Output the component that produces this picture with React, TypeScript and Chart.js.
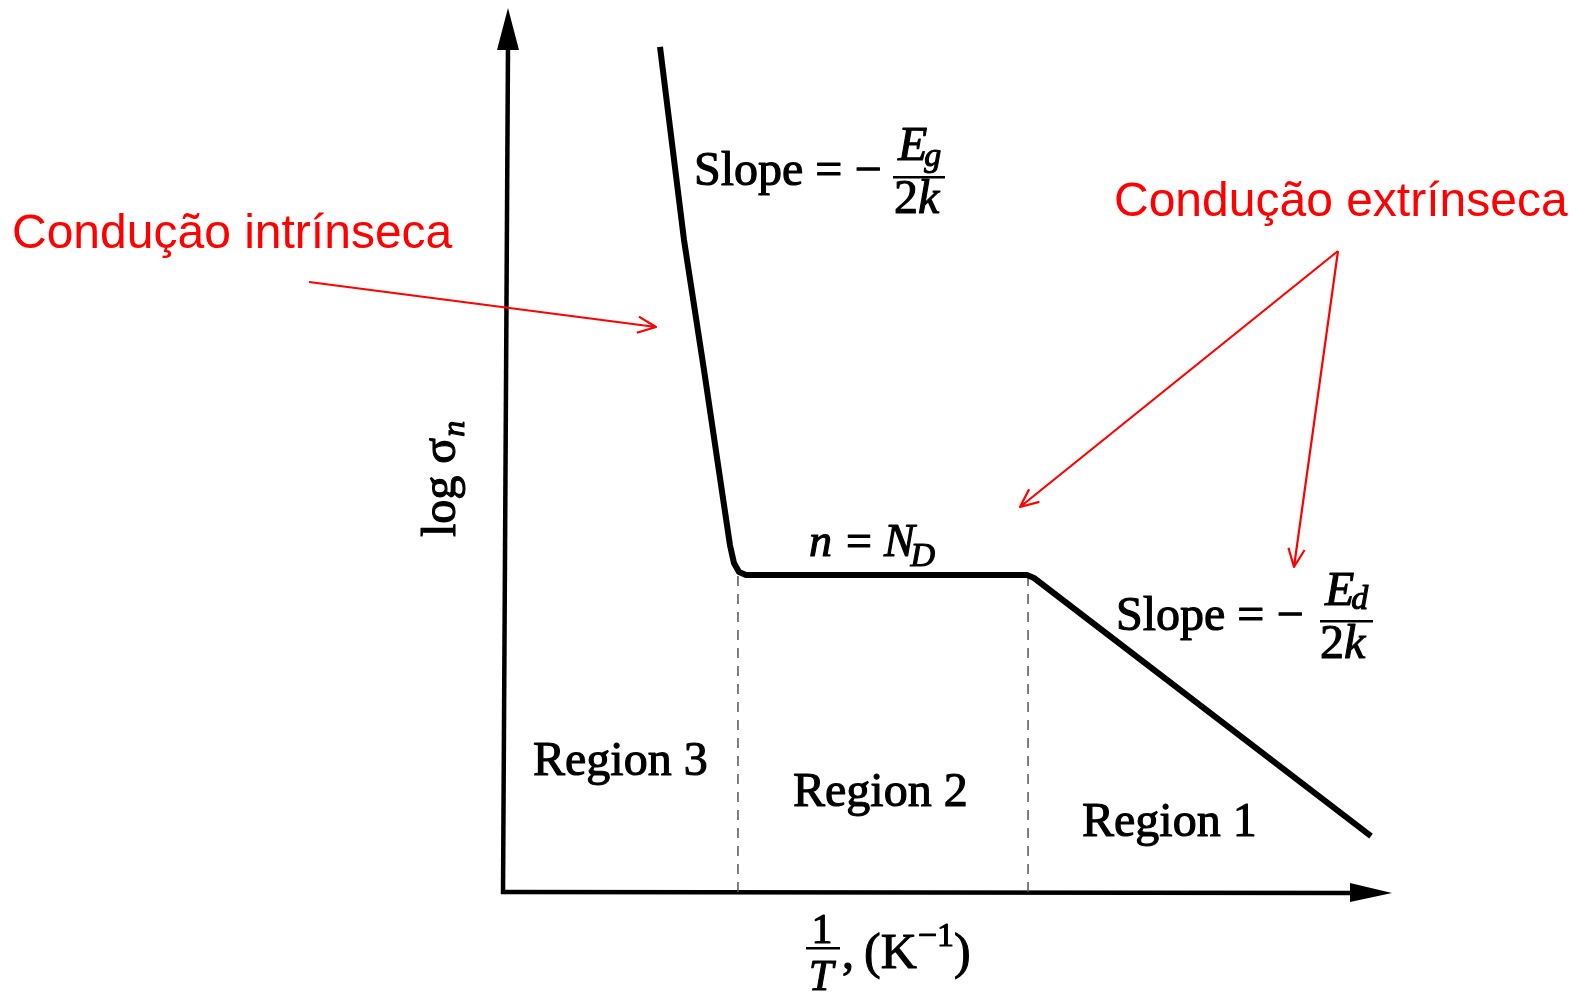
import { useEffect, useRef } from "react";
import { Chart, registerables } from "chart.js";

Chart.register(...registerables);

// Conductivity curve: log σn against 1/T (arbitrary units, 0–100 on both axes)
const CURVE_X = [17.66, 20.36, 22.61, 24.86, 25.53, 25.98, 26.55, 27.33, 58.94, 59.73, 97.64];
const CURVE_Y = [95.59, 73.76, 59.05, 43.78, 39.25, 37.22, 36.2, 35.86, 35.86, 35.52, 6.33];

// Boundaries between the three conduction regions
const REGION_EDGES = [26.43, 59.06];
const PLATEAU = [35.86, 35.86];

const REGION_LABELS = ["Region 3", "Region 2", "Region 1"];
const RED_LABELS = ["Condução intrínseca", "Condução extrínseca"];

const SERIF = '"Liberation Serif", "Times New Roman", serif';
const SANS = '"Liberation Sans", Arial, sans-serif';

type Run = { t: string; size: number; italic?: boolean; dy?: number; dx?: number };

// Print-style text: filled and lightly stroked so the serif face reads heavy
function drawRuns(ctx: CanvasRenderingContext2D, x: number, y: number, runs: Run[]) {
  let cx = x;
  ctx.lineWidth = 1.1;
  ctx.lineJoin = "round";
  for (const r of runs) {
    cx += r.dx || 0;
    ctx.font = `${r.italic ? "italic " : ""}${r.size}px ${SERIF}`;
    ctx.fillText(r.t, cx, y + (r.dy || 0));
    ctx.strokeText(r.t, cx, y + (r.dy || 0));
    cx += ctx.measureText(r.t).width;
  }
  return cx;
}

function openArrow(ctx: CanvasRenderingContext2D, x0: number, y0: number, x1: number, y1: number) {
  const a = Math.atan2(y1 - y0, x1 - x0);
  const L = 20;
  const w = 0.42;
  ctx.beginPath();
  ctx.moveTo(x0, y0);
  ctx.lineTo(x1, y1);
  ctx.moveTo(x1 - L * Math.cos(a - w), y1 - L * Math.sin(a - w));
  ctx.lineTo(x1, y1);
  ctx.lineTo(x1 - L * Math.cos(a + w), y1 - L * Math.sin(a + w));
  ctx.stroke();
}

const diagramPlugin = {
  id: "diagram",
  beforeDatasetsDraw(chart: Chart) {
    const { ctx, chartArea } = chart;
    const { left, right, top, bottom } = chartArea;
    ctx.save();
    ctx.fillStyle = "#000";
    ctx.strokeStyle = "#000";
    ctx.lineWidth = 4.5;
    ctx.lineCap = "butt";
    // y axis with arrow head
    ctx.beginPath();
    ctx.moveTo(left, bottom + 2);
    ctx.lineTo(left + 5, top + 38);
    ctx.stroke();
    ctx.beginPath();
    ctx.moveTo(left + 5, top);
    ctx.lineTo(left + 16, top + 42);
    ctx.lineTo(left - 6, top + 42);
    ctx.closePath();
    ctx.fill();
    // x axis with arrow head
    ctx.beginPath();
    ctx.moveTo(left - 2, bottom);
    ctx.lineTo(right - 38, bottom + 1);
    ctx.stroke();
    ctx.beginPath();
    ctx.moveTo(right, bottom + 1);
    ctx.lineTo(right - 42, bottom + 10);
    ctx.lineTo(right - 42, bottom - 9);
    ctx.closePath();
    ctx.fill();
    ctx.restore();
  },
  afterDatasetsDraw(chart: Chart) {
    const { ctx } = chart;
    ctx.save();
    ctx.fillStyle = "#000";
    ctx.strokeStyle = "#000";
    ctx.textBaseline = "alphabetic";
    ctx.textAlign = "left";

    // y-axis title, rotated
    ctx.save();
    ctx.translate(455, 537);
    ctx.rotate(-Math.PI / 2);
    drawRuns(ctx, 0, 0, [
      { t: "log σ", size: 48 },
      { t: "n", size: 32, italic: true, dy: 9, dx: 1 },
    ]);
    ctx.restore();

    // x-axis title: 1/T, (K⁻¹)
    ctx.textAlign = "center";
    drawRuns(ctx, 822, 943, [{ t: "1", size: 42 }]);
    ctx.fillRect(806, 947, 34, 2.5);
    drawRuns(ctx, 821, 990, [{ t: "T", size: 44, italic: true }]);
    ctx.textAlign = "left";
    drawRuns(ctx, 842, 968, [{ t: ",", size: 48 }]);
    drawRuns(ctx, 864, 968, [
      { t: "(K", size: 50 },
      { t: "−1", size: 34, dy: -22, dx: 1 },
      { t: ")", size: 50 },
    ]);

    // slope annotation on the intrinsic branch
    drawRuns(ctx, 694, 185, [{ t: "Slope = −", size: 48 }]);
    drawRuns(ctx, 898, 160, [
      { t: "E", size: 48, italic: true },
      { t: "g", size: 34, italic: true, dy: 6, dx: -3 },
    ]);
    ctx.fillRect(893, 176, 52, 2.5);
    drawRuns(ctx, 894, 213, [
      { t: "2", size: 48 },
      { t: "k", size: 48, italic: true },
    ]);

    // plateau annotation
    drawRuns(ctx, 809, 556, [
      { t: "n", size: 46, italic: true },
      { t: "=", size: 46, dx: 14 },
      { t: "N", size: 46, italic: true, dx: 12 },
      { t: "D", size: 34, italic: true, dy: 10, dx: -4 },
    ]);

    // slope annotation on the extrinsic branch
    drawRuns(ctx, 1116, 630, [{ t: "Slope = −", size: 48 }]);
    drawRuns(ctx, 1325, 605, [
      { t: "E", size: 48, italic: true },
      { t: "d", size: 34, italic: true, dy: 4, dx: -3 },
    ]);
    ctx.fillRect(1320, 620, 53, 2.5);
    drawRuns(ctx, 1320, 658, [
      { t: "2", size: 48 },
      { t: "k", size: 48, italic: true },
    ]);

    // region names
    drawRuns(ctx, 533, 775, [{ t: REGION_LABELS[0], size: 48 }]);
    drawRuns(ctx, 793, 806, [{ t: REGION_LABELS[1], size: 48 }]);
    drawRuns(ctx, 1082, 836, [{ t: REGION_LABELS[2], size: 48 }]);

    // red callouts
    ctx.fillStyle = "#ff0000";
    ctx.strokeStyle = "#ff0000";
    ctx.lineWidth = 2.2;
    ctx.font = `48px ${SANS}`;
    ctx.fillText(RED_LABELS[0], 12, 248);
    ctx.fillText(RED_LABELS[1], 1114, 216);
    openArrow(ctx, 309, 282, 656, 327);
    openArrow(ctx, 1338, 251, 1020, 507);
    openArrow(ctx, 1338, 251, 1294, 567);
    ctx.restore();
  },
};

export default function App() {
  const ref = useRef<HTMLCanvasElement>(null);

  useEffect(() => {
    document.body.style.margin = "0";
    const canvas = ref.current;
    if (!canvas) return;
    const curve = CURVE_X.map((x, i) => ({ x, y: CURVE_Y[i] }));
    const edges = REGION_EDGES.map((x, i) => ({
      label: `edge ${i + 1}`,
      data: [
        { x, y: 0 },
        { x, y: PLATEAU[i] },
      ],
      showLine: true,
      borderColor: "#555",
      borderWidth: 1.5,
      borderDash: [10, 8],
      pointRadius: 0,
      clip: false as const,
    }));
    const chart = new Chart(canvas, {
      type: "scatter",
      data: {
        datasets: [
          {
            label: "log σn",
            data: curve,
            showLine: true,
            borderColor: "#000",
            borderWidth: 6,
            pointRadius: 0,
            borderJoinStyle: "round",
            borderCapStyle: "butt",
            clip: false as const,
          },
          ...edges,
        ],
      },
      options: {
        animation: false,
        responsive: false,
        devicePixelRatio: 1,
        layout: { padding: { left: 503, right: 183, top: 8, bottom: 100 } },
        plugins: { legend: { display: false }, tooltip: { enabled: false } },
        scales: {
          x: { type: "linear", min: 0, max: 100, display: false },
          y: { type: "linear", min: 0, max: 100, display: false },
        },
      },
      plugins: [diagramPlugin],
    });
    return () => chart.destroy();
  }, []);

  return (
    <div style={{ width: 1575, height: 992, background: "#fff" }}>
      <canvas ref={ref} width={1575} height={992} />
    </div>
  );
}
